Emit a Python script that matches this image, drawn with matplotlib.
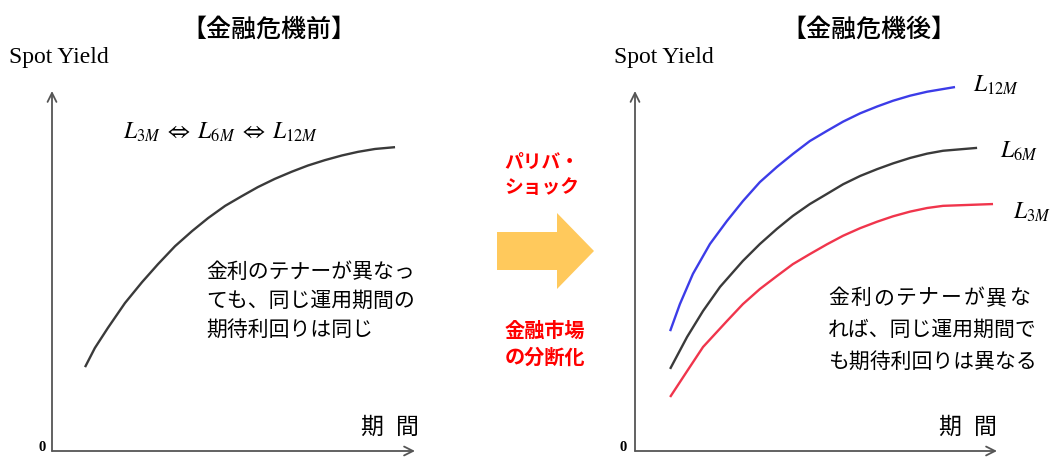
import matplotlib
matplotlib.use("Agg")
import matplotlib.pyplot as plt
from matplotlib.patches import Polygon

plt.rcParams['font.family'] = ['Noto Sans CJK JP', 'DejaVu Sans']
plt.rcParams['mathtext.fontset'] = 'stix'

# ---------------- data ----------------
# before crisis: single curve (term, spot yield)
before_term = [0.91, 1.18, 1.54, 2.01, 2.48, 2.92, 3.39, 3.86, 4.30, 4.77,
               5.23, 5.67, 6.14, 6.61, 7.05, 7.52, 7.99, 8.43, 8.90, 9.45]
before_yield = [2.33, 2.86, 3.42, 4.11, 4.69, 5.19, 5.69, 6.11, 6.47, 6.81,
                7.08, 7.33, 7.56, 7.76, 7.93, 8.08, 8.21, 8.31, 8.39, 8.44]

# after crisis: three curves
after_term_12m = [0.97, 1.24, 1.60, 2.07, 2.54, 2.98, 3.45, 3.92, 4.36, 4.83,
                  5.30, 5.75, 6.22, 6.69, 7.13, 7.60, 8.07, 8.84]
after_yield_12m = [3.33, 4.08, 4.92, 5.75, 6.39, 6.94, 7.47, 7.89, 8.25, 8.61,
                   8.89, 9.15, 9.38, 9.57, 9.73, 9.87, 9.98, 10.11]
after_term_6m = [0.97, 1.44, 1.88, 2.35, 2.98, 3.45, 3.92, 4.36, 4.83, 5.30,
                 5.75, 6.22, 6.69, 7.13, 7.60, 8.07, 8.51, 9.45]
after_yield_6m = [2.28, 3.17, 3.89, 4.56, 5.28, 5.75, 6.17, 6.53, 6.86, 7.14,
                  7.41, 7.64, 7.83, 7.99, 8.14, 8.26, 8.34, 8.42]
after_term_3m = [0.97, 1.44, 1.88, 2.54, 2.98, 3.45, 3.92, 4.36, 4.83, 5.30,
                 5.75, 6.22, 6.69, 7.13, 7.60, 8.07, 8.51, 9.89]
after_yield_3m = [1.50, 2.22, 2.89, 3.61, 4.08, 4.50, 4.86, 5.19, 5.47, 5.74,
                  5.98, 6.19, 6.37, 6.52, 6.65, 6.75, 6.81, 6.86]

title_before = "【金融危機前】"
title_after = "【金融危機後】"
ylabel = "Spot Yield"
xlabel = "期間"
note_before = ["金利のテナーが異なっ", "ても、同じ運用期間の", "期待利回りは同じ"]
note_after = ["金利のテナーが異な", "れば、同じ運用期間で", "も期待利回りは異なる"]
mid_top = ["パリバ・", "ショック"]
mid_bottom = ["金融市場", "の分断化"]
label_equiv = r"$L_{3M}\;\Leftrightarrow\;L_{6M}\;\Leftrightarrow\;L_{12M}$"
labels_after = [r"$L_{12M}$", r"$L_{6M}$", r"$L_{3M}$"]

W, H = 1051, 460
fig = plt.figure(figsize=(W / 100, H / 100), dpi=100)
fig.patch.set_facecolor('white')

# overlay in pixel coordinates for annotations
ov = fig.add_axes([0, 0, 1, 1])
ov.set_xlim(0, W)
ov.set_ylim(H, 0)
ov.axis('off')


def panel(x0, x1, y_top, y0):
    ax = fig.add_axes([x0 / W, (H - y0) / H, (x1 - x0) / W, (y0 - y_top) / H])
    ax.set_xlim(0, 10)
    ax.set_ylim(0, 10)
    ax.axis('off')
    ap = dict(arrowstyle='->', lw=1.3, color='#555555', mutation_scale=16,
              shrinkA=0, shrinkB=0)
    ax.annotate('', xy=(1, 0), xytext=(0, 0), xycoords='axes fraction',
                textcoords='axes fraction', arrowprops=ap)
    ax.annotate('', xy=(0, 1), xytext=(0, 0), xycoords='axes fraction',
                textcoords='axes fraction', arrowprops=ap)
    return ax


axL = panel(52, 415, 92, 452)
axR = panel(635, 997, 92, 452)

kw = dict(lw=1.7, clip_on=False, solid_capstyle='butt', solid_joinstyle='round')
axL.plot(before_term, before_yield, color='#3a3a3a', **kw)
axR.plot(after_term_12m, after_yield_12m, color='#3c3ce8', **kw)
axR.plot(after_term_6m, after_yield_6m, color='#3a3a3a', **kw)
axR.plot(after_term_3m, after_yield_3m, color='#f0354c', **kw)

# titles
ov.text(269, 30, title_before, fontsize=18, weight='medium', ha='center', va='center')
ov.text(869, 30, title_after, fontsize=18, weight='medium', ha='center', va='center')

# y labels
for x in (9, 614):
    ov.text(x, 57, ylabel, fontsize=17, family='Liberation Serif',
            ha='left', va='center')

# zero
for x in (42, 623):
    ov.text(x, 448, "0", fontsize=10.5, family='Liberation Serif', weight='bold',
            ha='center', va='center')

# x labels (two characters spaced apart)
for xc in (372, 950):
    ov.text(xc, 427, xlabel[0], fontsize=16.5, ha='center', va='center')
    ov.text(xc + 35, 427, xlabel[1], fontsize=16.5, ha='center', va='center')

# equivalence label
ov.text(221, 132, label_equiv, fontsize=17, ha='center', va='center')

# right curve labels
for (x, y), lab in zip([(996, 85), (1019, 151), (1032, 212)], labels_after):
    ov.text(x, y, lab, fontsize=17, ha='center', va='center')

# notes
for i, line in enumerate(note_before):
    ov.text(206, 272 + 29 * i, line, fontsize=15, ha='left', va='center')
# first line of right note is letter-spaced
for j, ch in enumerate(note_after[0]):
    ov.text(828 + 22.6 * j, 298, ch, fontsize=15, ha='left', va='center')
for i, line in enumerate(note_after[1:], start=1):
    ov.text(828, 298 + 32 * i, line, fontsize=15, ha='left', va='center')

# middle arrow
arrow = Polygon([(497, 233), (557, 233), (557, 214), (594, 252),
                 (557, 290), (557, 271), (497, 271)],
                closed=True, facecolor='#FFC95C', edgecolor='none')
ov.add_patch(arrow)

for i, line in enumerate(mid_top):
    ov.text(542, 162 + 26 * i, line, fontsize=13.5, weight='bold',
            color='#FF0000', ha='center', va='center')
for i, line in enumerate(mid_bottom):
    ov.text(545, 330 + 27 * i, line, fontsize=14.5, weight='bold',
            color='#FF0000', ha='center', va='center')

fig.savefig('out.png', dpi=100, facecolor='white')
